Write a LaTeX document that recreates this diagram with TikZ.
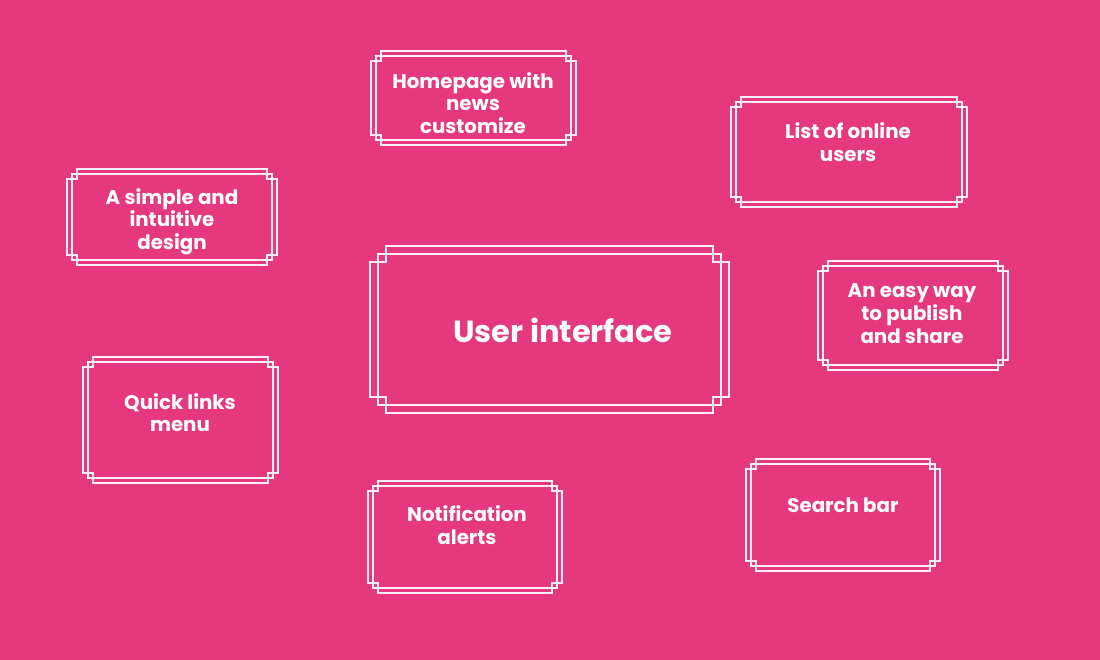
\documentclass[tikz,border=0pt]{standalone}
\usepackage{fontspec}
\setmainfont{Poppins}
\usetikzlibrary{calc}
\definecolor{bgpink}{HTML}{E6387F}
\colorlet{frcol}{white!92!bgpink}
\tikzset{
  frame rect/.style={draw=frcol, line width=1.3pt, inner sep=0pt, outer sep=0pt, rectangle},
  frame line/.style={draw=frcol, line width=1.3pt},
  lbl/.style={text=white, align=center, font=\bfseries\fontsize{19.8}{22.7}\selectfont, inner sep=0pt},
  biglbl/.style={text=white, align=center, font=\bfseries\fontsize{30.5}{35}\selectfont, inner sep=0pt}
}
% #1 name, #2 x1, #3 y1, #4 x2, #5 y2, #6 d
\newcommand\fancyframe[6]{%
  \node[frame rect, minimum width={#4pt-#2pt-2*#6pt}, minimum height={#5pt-#3pt-2*#6pt}] (#1) at ({(#2+#4)/2},{(#3+#5)/2}) {};
  \draw[frame line] ({#2+2*#6},#3) -- ({#4-2*#6},#3) -- ({#4-2*#6},{#3+2*#6}) -- (#4,{#3+2*#6})
    -- (#4,{#5-2*#6}) -- ({#4-2*#6},{#5-2*#6}) -- ({#4-2*#6},#5) -- ({#2+2*#6},#5)
    -- ({#2+2*#6},{#5-2*#6}) -- (#2,{#5-2*#6}) -- (#2,{#3+2*#6}) -- ({#2+2*#6},{#3+2*#6}) -- cycle;
}
\begin{document}
\begin{tikzpicture}[x=1pt,y=-1pt]
\fill[bgpink] (0,0) rectangle (1100,660);
\useasboundingbox (0,0) rectangle (1100,660);

\fancyframe{fhome}{371}{51}{576}{145}{5}
\fancyframe{flist}{731}{97}{967}{207}{5}
\fancyframe{fsimple}{67}{169}{277}{265}{5}
\fancyframe{fui}{370}{246}{729}{413}{8}
\fancyframe{feasy}{818}{261}{1008}{370}{5}
\fancyframe{fquick}{83}{357}{278}{483}{5}
\fancyframe{fnotif}{368}{481}{562}{593}{5}
\fancyframe{fsearch}{746}{459}{940}{571}{5}

\node[lbl] (thome) at (473,103) {Homepage with\\news\\customize};
\node[lbl] (tlist) at (848,142) {List of online\\users};
\node[lbl] (tsimple) at (172,221.5) {A simple and\\intuitive\\design};
\node[biglbl] (tui) at (563,330) {User interface};
\node[lbl] (teasy) at (912,313.5) {An easy way\\to publish\\and share};
\node[lbl] (tquick) at (180,412.5) {Quick links\\menu};
\node[lbl] (tnotif) at (467,525) {Notification\\alerts};
\node[lbl] (tsearch) at (843,505) {Search bar};
\end{tikzpicture}
\end{document}
